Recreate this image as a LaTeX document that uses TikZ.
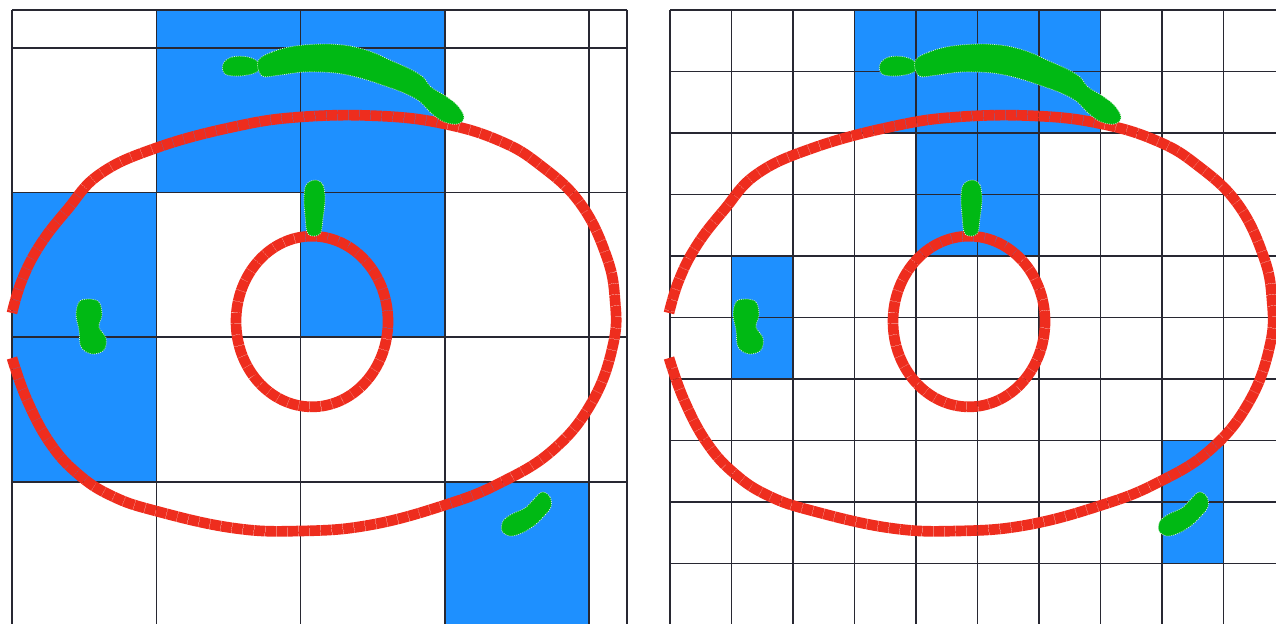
\documentclass[tikz,border=0pt]{standalone}
\definecolor{cellblue}{RGB}{30,144,255}
\definecolor{blobgreen}{RGB}{0,185,20}
\definecolor{ringred}{RGB}{238,45,30}
\definecolor{gridgray}{RGB}{40,40,50}
\definecolor{blobedge}{RGB}{215,240,215}
\tikzset{
 gridline/.style={line width=1.2pt, draw=gridgray},
 bluecell/.style={fill=cellblue},
 ring/.style={line width=8pt, draw=ringred, dash pattern=on 8pt off 0.35pt},
 blob/.style={fill=blobgreen, draw=blobedge, line width=0.6pt, densely dotted},
}
\newcommand\myscenepart{%
 \draw[ring] plot[smooth, tension=0.7] coordinates {(12,358)(27,400)(50,443)(78,474)(112,496)(156,511)(233,528)(300,531)(370,525)(445,505)(500,483)(553,450)(592,402)(613,345)(615,300)(606,255)(580,203)(540,165)(500,141)(445,124)(380,116)(300,117)(233,127)(156,148)(100,174)(67,210)(40,245)(22,280)(12,313)};
 \draw[ring] (312,321.5) ellipse [x radius=57pt, y radius=64pt];
 \draw[blob] plot[smooth cycle, tension=0.6] coordinates {(223,64)(232,57)(248,57)(259,63)(257,72)(240,76)(225,74)};
 \draw[blob] plot[smooth cycle, tension=0.6] coordinates {(258,61)(272,52)(295,46)(325,44)(350,46)(372,52)(392,61)(410,69)(423,77)(431,87)(444,95)(457,105)(464,117)(458,124)(444,122)(431,113)(419,101)(404,93)(385,86)(360,78)(335,73)(305,72)(280,75)(262,76)};
 \draw[blob] plot[smooth cycle, tension=0.6] coordinates {(315,180)(323,185)(325,200)(323,218)(320,234)(308,234)(305,215)(304,198)(306,185)};
 \draw[blob] plot[smooth cycle, tension=0.6] coordinates {(88,299)(99,302)(102,315)(99,327)(106,338)(104,350)(92,354)(81,347)(79,330)(76,315)(79,302)};
 \draw[blob] plot[smooth cycle, tension=0.6] coordinates {(542,492)(550,497)(551,507)(545,515)(535,525)(522,533)(510,536)(502,531)(503,521)(512,514)(525,508)(533,500)};
}
\begin{document}
\begin{tikzpicture}[x=0.75pt,y=-0.75pt]
\useasboundingbox (0,0) rectangle (1276,624);
\fill[white] (0,0) rectangle (1276,624);
% left panel cells
\fill[bluecell] (156.3,10) rectangle (444.9,192.6);
\fill[bluecell] (300.6,192.6) rectangle (444.9,337.2);
\fill[bluecell] (12,192.6) rectangle (156.3,481.8);
\fill[bluecell] (444.9,481.8) rectangle (589.2,624);
\foreach \x in {12,156.3,300.6,444.9,589.2,627} \draw[gridline] (\x,10) -- (\x,624);
\foreach \y in {10,48,192.6,337.2,481.8} \draw[gridline] (12,\y) -- (627,\y);
% right panel cells
\fill[bluecell] (854.5,10) rectangle (1100.5,133);
\fill[bluecell] (916,133) rectangle (1039,256);
\fill[bluecell] (731.5,256) rectangle (793,379);
\fill[bluecell] (1162,440.5) rectangle (1223.5,563.5);
\foreach \x in {670,731.5,793,854.5,916,977.5,1039,1100.5,1162,1223.5} \draw[gridline] (\x,10) -- (\x,624);
\foreach \y in {10,71.5,133,194.5,256,317.5,379,440.5,502,563.5} \draw[gridline] (670,\y) -- (1276,\y);
% scenes
\myscenepart
\begin{scope}[shift={(657,0)}]
\myscenepart
\end{scope}
\end{tikzpicture}
\end{document}
